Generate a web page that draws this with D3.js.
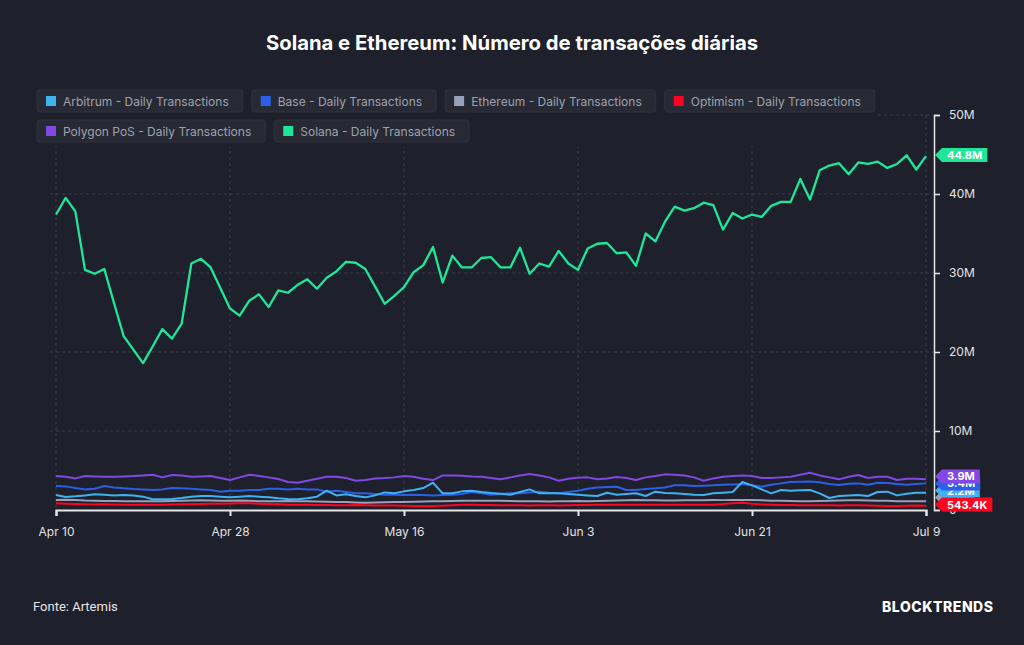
<!DOCTYPE html>
<html lang="pt">
<head>
<meta charset="UTF-8">
<title>Solana e Ethereum: transações diárias</title>
<script src="https://d3js.org/d3.v7.min.js"></script>
<style>
    body {
        margin: 0;
        background: #1e212b;
    }
    svg text {
        font-family: Inter, "Noto Sans", sans-serif;
    }
</style>
</head>
<body>
<svg id="chart" width="1024" height="645"></svg>
<script>
    // daily values, Apr 10 -> Jul 9 2024 (millions of transactions)
    const startDay = new Date(2024, 3, 10);
    const tickDates = ["2024-04-10", "2024-04-28", "2024-05-16", "2024-06-03", "2024-06-21", "2024-07-09"];
    const yTicks = [0, 10, 20, 30, 40, 50];

    const solana = [37.4, 39.5, 37.8, 30.4, 29.9, 30.5, 26.2, 22.0, 20.3, 18.6,
        20.7, 22.9, 21.7, 23.6, 31.2, 31.8, 30.7, 28.1, 25.5, 24.6,
        26.5, 27.3, 25.7, 27.8, 27.5, 28.5, 29.2, 28.0, 29.4, 30.2,
        31.4, 31.3, 30.5, 28.3, 26.1, 27.1, 28.2, 30.1, 31.0, 33.3,
        28.8, 32.2, 30.7, 30.7, 31.9, 32.0, 30.7, 30.7, 33.2, 29.9,
        31.2, 30.8, 32.8, 31.2, 30.4, 33.1, 33.7, 33.8, 32.5, 32.6,
        30.9, 35.0, 34.0, 36.5, 38.4, 37.9, 38.2, 38.9, 38.6, 35.5,
        37.6, 36.9, 37.4, 37.1, 38.5, 39.0, 39.0, 41.9, 39.3, 43.0,
        43.6, 43.9, 42.5, 44.0, 43.8, 44.1, 43.3, 43.8, 44.9, 43.1,
        44.8];

    const polygon = [4.30, 4.20, 4.00, 4.30, 4.25, 4.20, 4.20, 4.25, 4.30, 4.38,
        4.47, 4.13, 4.43, 4.38, 4.20, 4.25, 4.30, 4.05, 3.79, 4.13,
        4.47, 4.30, 4.13, 3.92, 3.54, 3.45, 3.71, 3.96, 4.20, 4.20,
        4.05, 3.71, 3.79, 4.00, 4.05, 4.13, 4.30, 4.20, 3.96, 3.79,
        4.38, 4.38, 4.34, 4.25, 4.20, 4.05, 3.88, 4.13, 4.38, 4.55,
        4.38, 4.13, 3.71, 3.96, 4.09, 4.13, 3.88, 4.00, 4.17, 4.05,
        3.79, 4.13, 4.30, 4.51, 4.47, 4.38, 4.13, 3.71, 4.00, 4.20,
        4.30, 4.38, 4.30, 4.05, 4.05, 4.13, 4.20, 4.47, 4.72, 4.38,
        4.13, 3.88, 4.21, 4.43, 4.05, 4.20, 4.20, 3.79, 3.96, 3.96,
        3.90];

    const base = [3.03, 2.99, 2.78, 2.61, 2.70, 3.03, 2.86, 2.74, 2.65, 2.61,
        2.53, 2.61, 2.78, 2.74, 2.70, 2.61, 2.53, 2.32, 2.44, 2.44,
        2.53, 2.53, 2.70, 2.70, 2.61, 2.70, 2.61, 2.61, 2.32, 2.44,
        2.28, 2.11, 2.11, 2.02, 1.94, 1.94, 1.90, 1.94, 1.90, 1.85,
        1.90, 1.94, 2.02, 2.28, 2.11, 1.94, 2.02, 2.11, 2.11, 2.23,
        2.32, 2.19, 2.11, 2.28, 2.44, 2.70, 2.86, 2.91, 2.95, 2.53,
        2.53, 2.65, 2.74, 2.86, 3.12, 3.12, 3.03, 3.07, 3.12, 3.20,
        3.24, 3.29, 3.12, 2.95, 3.20, 3.37, 3.54, 3.58, 3.62, 3.50,
        3.29, 3.16, 3.33, 3.37, 3.20, 3.45, 3.41, 3.29, 3.20, 3.29,
        3.37];

    const arbitrum = [1.90, 1.64, 1.73, 1.85, 1.98, 1.94, 1.85, 1.90, 1.85, 1.69,
        1.35, 1.35, 1.39, 1.52, 1.69, 1.77, 1.77, 1.69, 1.60, 1.69,
        1.77, 1.69, 1.60, 1.48, 1.39, 1.35, 1.48, 1.69, 2.44, 1.85,
        1.98, 1.77, 1.60, 1.85, 2.23, 2.11, 2.36, 2.53, 2.78, 3.45,
        2.11, 2.11, 2.36, 2.44, 2.28, 2.15, 2.06, 1.94, 2.28, 2.61,
        2.11, 2.11, 2.11, 2.02, 1.94, 1.85, 1.77, 2.19, 1.94, 2.02,
        2.11, 1.77, 2.32, 2.15, 2.11, 2.02, 1.94, 1.90, 2.11, 2.19,
        2.28, 3.54, 3.12, 2.61, 2.11, 2.53, 2.44, 2.49, 2.53, 2.11,
        1.52, 1.77, 1.85, 1.90, 1.77, 2.28, 2.32, 1.85, 2.06, 2.19,
        2.19];

    const ethereum = [1.26, 1.30, 1.28, 1.20, 1.18, 1.15, 1.14, 1.12, 1.12, 1.10,
        1.10, 1.12, 1.14, 1.16, 1.20, 1.22, 1.20, 1.18, 1.16, 1.20,
        1.16, 1.12, 1.10, 1.12, 1.14, 1.12, 1.10, 1.08, 1.05, 1.02,
        1.00, 0.96, 0.93, 0.95, 0.97, 1.00, 1.02, 1.05, 1.08, 1.10,
        1.12, 1.14, 1.16, 1.18, 1.18, 1.17, 1.16, 1.15, 1.12, 1.10,
        1.10, 1.08, 1.10, 1.12, 1.14, 1.12, 1.15, 1.18, 1.20, 1.22,
        1.26, 1.24, 1.22, 1.20, 1.20, 1.22, 1.24, 1.24, 1.26, 1.25,
        1.26, 1.28, 1.26, 1.22, 1.18, 1.16, 1.14, 1.12, 1.12, 1.15,
        1.18, 1.20, 1.24, 1.24, 1.20, 1.18, 1.16, 1.12, 1.10, 1.10,
        1.12];

    const optimism = [0.84, 0.80, 0.76, 0.72, 0.70, 0.72, 0.70, 0.68, 0.67, 0.67,
        0.66, 0.67, 0.70, 0.72, 0.74, 0.76, 0.78, 0.80, 0.82, 0.84,
        0.86, 0.80, 0.76, 0.72, 0.68, 0.67, 0.66, 0.64, 0.62, 0.60,
        0.60, 0.62, 0.60, 0.58, 0.56, 0.57, 0.55, 0.52, 0.51, 0.50,
        0.54, 0.60, 0.65, 0.67, 0.64, 0.62, 0.60, 0.59, 0.59, 0.58,
        0.60, 0.59, 0.58, 0.60, 0.62, 0.63, 0.65, 0.66, 0.67, 0.66,
        0.65, 0.66, 0.67, 0.68, 0.67, 0.66, 0.65, 0.66, 0.68, 0.75,
        0.86, 0.93, 0.80, 0.70, 0.66, 0.64, 0.62, 0.60, 0.59, 0.60,
        0.59, 0.58, 0.60, 0.59, 0.57, 0.55, 0.52, 0.50, 0.54, 0.56,
        0.5434];

    // legend order + colours
    const seriesNames = ["Arbitrum", "Base", "Ethereum", "Optimism", "Polygon PoS", "Solana"];
    const seriesColors = ["#3fb2f2", "#2c5ee8", "#9aa0b8", "#ff0420", "#8247e5", "#1ee79a"];
    const seriesData = [arbitrum, base, ethereum, optimism, polygon, solana];
    const drawOrder = [5, 4, 1, 2, 0, 3];
    const tagOrder = [2, 0, 1, 4, 3];   // lower series tags, back to front

    const svg = d3.select("#chart");

    const x = d3.scaleTime()
        .domain([startDay, d3.timeDay.offset(startDay, solana.length - 1)])
        .range([56, 926]);
    const y = d3.scaleLinear().domain([0, 50]).range([510, 115]);

    const fmtM = v => v >= 1 ? d3.format(".1f")(v) + "M" : d3.format(".1f")(v * 1000) + "K";

    // grid
    const grid = svg.append("g");
    grid.selectAll(".hg").data(yTicks.slice(1)).join("line")
        .attr("x1", 50).attr("x2", 933)
        .attr("y1", d => y(d)).attr("y2", d => y(d))
        .attr("stroke", "#3a3d4a").attr("stroke-dasharray", "3,3");
    grid.selectAll(".vg").data(tickDates).join("line")
        .attr("x1", d => x(new Date(d + "T00:00"))).attr("x2", d => x(new Date(d + "T00:00")))
        .attr("y1", 115).attr("y2", 510)
        .attr("stroke", "#3a3d4a").attr("stroke-dasharray", "3,3");

    // lines
    const line = d3.line()
        .x((d, i) => x(d3.timeDay.offset(startDay, i)))
        .y(d => y(d));
    svg.append("g").selectAll("path").data(drawOrder).join("path")
        .attr("d", k => line(seriesData[k]))
        .attr("fill", "none")
        .attr("stroke", k => seriesColors[k])
        .attr("stroke-width", k => k === 5 ? 2.3 : 2)
        .attr("stroke-linejoin", "round");

    // legend (covers the grid behind it)
    svg.append("rect").attr("x", 30).attr("y", 86).attr("width", 848).attr("height", 61)
        .attr("fill", "#1e212b");
    const legend = svg.append("g");
    let lx = 37, ly = 90;
    seriesNames.forEach((name, i) => {
        const g = legend.append("g");
        const box = g.append("rect");
        const t = g.append("text").text(name + " - Daily Transactions")
            .attr("font-size", 12).attr("fill", "#9ea1ab");
        const w = t.node().getComputedTextLength() + 40;
        if (lx + w > 880) { lx = 37; ly += 30; }
        box.attr("x", lx).attr("y", ly).attr("width", w).attr("height", 22).attr("rx", 3)
            .attr("fill", "#272a35").attr("stroke", "#2f3240");
        g.append("rect").attr("x", lx + 9).attr("y", ly + 6).attr("width", 10).attr("height", 10)
            .attr("fill", seriesColors[i]);
        t.attr("x", lx + 26).attr("y", ly + 15.5);
        lx += w + 9;
    });

    // axes
    const xAxis = d3.axisBottom(x)
        .tickValues(tickDates.map(d => new Date(d + "T00:00")))
        .tickFormat(d3.timeFormat("%b %-d"))
        .tickSize(6).tickPadding(11);
    const gx = svg.append("g").attr("transform", "translate(0,510)").call(xAxis);
    gx.select(".domain").attr("stroke", "#e8e8e8").attr("stroke-width", 2);
    gx.selectAll(".tick line").attr("stroke", "#e8e8e8").attr("stroke-width", 2);
    gx.selectAll("text").attr("fill", "#e2e2e2").attr("font-size", 12).attr("font-family", "Inter, sans-serif");

    const yAxis = d3.axisRight(y).tickValues(yTicks)
        .tickFormat(d => d === 0 ? "0" : d + "M")
        .tickSize(6).tickPadding(9);
    const gy = svg.append("g").attr("transform", "translate(934,0)").call(yAxis);
    gy.select(".domain").attr("stroke", "#e8e8e8").attr("stroke-width", 1.5);
    gy.selectAll(".tick line").attr("stroke", "#e8e8e8").attr("stroke-width", 1.5);
    gy.selectAll("text").attr("fill", "#e2e2e2").attr("font-size", 12).attr("font-family", "Inter, sans-serif");

    // last-value tags on the right axis
    const lastOf = k => seriesData[k][seriesData[k].length - 1];
    const lower = [4, 1, 0, 2, 3];  // top to bottom
    const tagY = {};
    let prev = 504.5;
    for (let j = lower.length - 1; j >= 0; j--) {
        const k = lower[j];
        const yy = Math.min(y(lastOf(k)), prev);
        tagY[k] = yy;
        prev = yy - 7;
    }
    tagY[5] = y(lastOf(5)) - 1;

    function drawTag(k) {
        const g = svg.append("g");
        const yy = tagY[k];
        const t = g.append("text").text(fmtM(lastOf(k)))
            .attr("font-size", 11).attr("font-weight", 700).attr("fill", "#fff");
        const w = t.node().getComputedTextLength() + 10;
        g.insert("path", "text")
            .attr("d", `M935,${yy} L942,${yy - 7} H${942 + w} V${yy + 7} H942 Z`)
            .attr("fill", seriesColors[k]);
        t.attr("x", 947).attr("y", yy + 4);
    }
    tagOrder.forEach(drawTag);
    drawTag(5);

    // title + footer
    svg.append("text").attr("x", 512).attr("y", 50).attr("text-anchor", "middle")
        .attr("font-size", 20.3).attr("font-weight", 700).attr("fill", "#ffffff")
        .text("Solana e Ethereum: Número de transações diárias");
    svg.append("text").attr("x", 33).attr("y", 611)
        .attr("font-size", 13).attr("fill", "#e6e6e6").style("font-family", "Roboto, sans-serif")
        .text("Fonte: Artemis");
    svg.append("text").attr("x", 993).attr("y", 612).attr("text-anchor", "end")
        .attr("font-size", 14).attr("font-weight", 800).attr("fill", "#ffffff")
        .attr("textLength", 111).attr("lengthAdjust", "spacing")
        .text("BLOCKTRENDS");
</script>
</body>
</html>
